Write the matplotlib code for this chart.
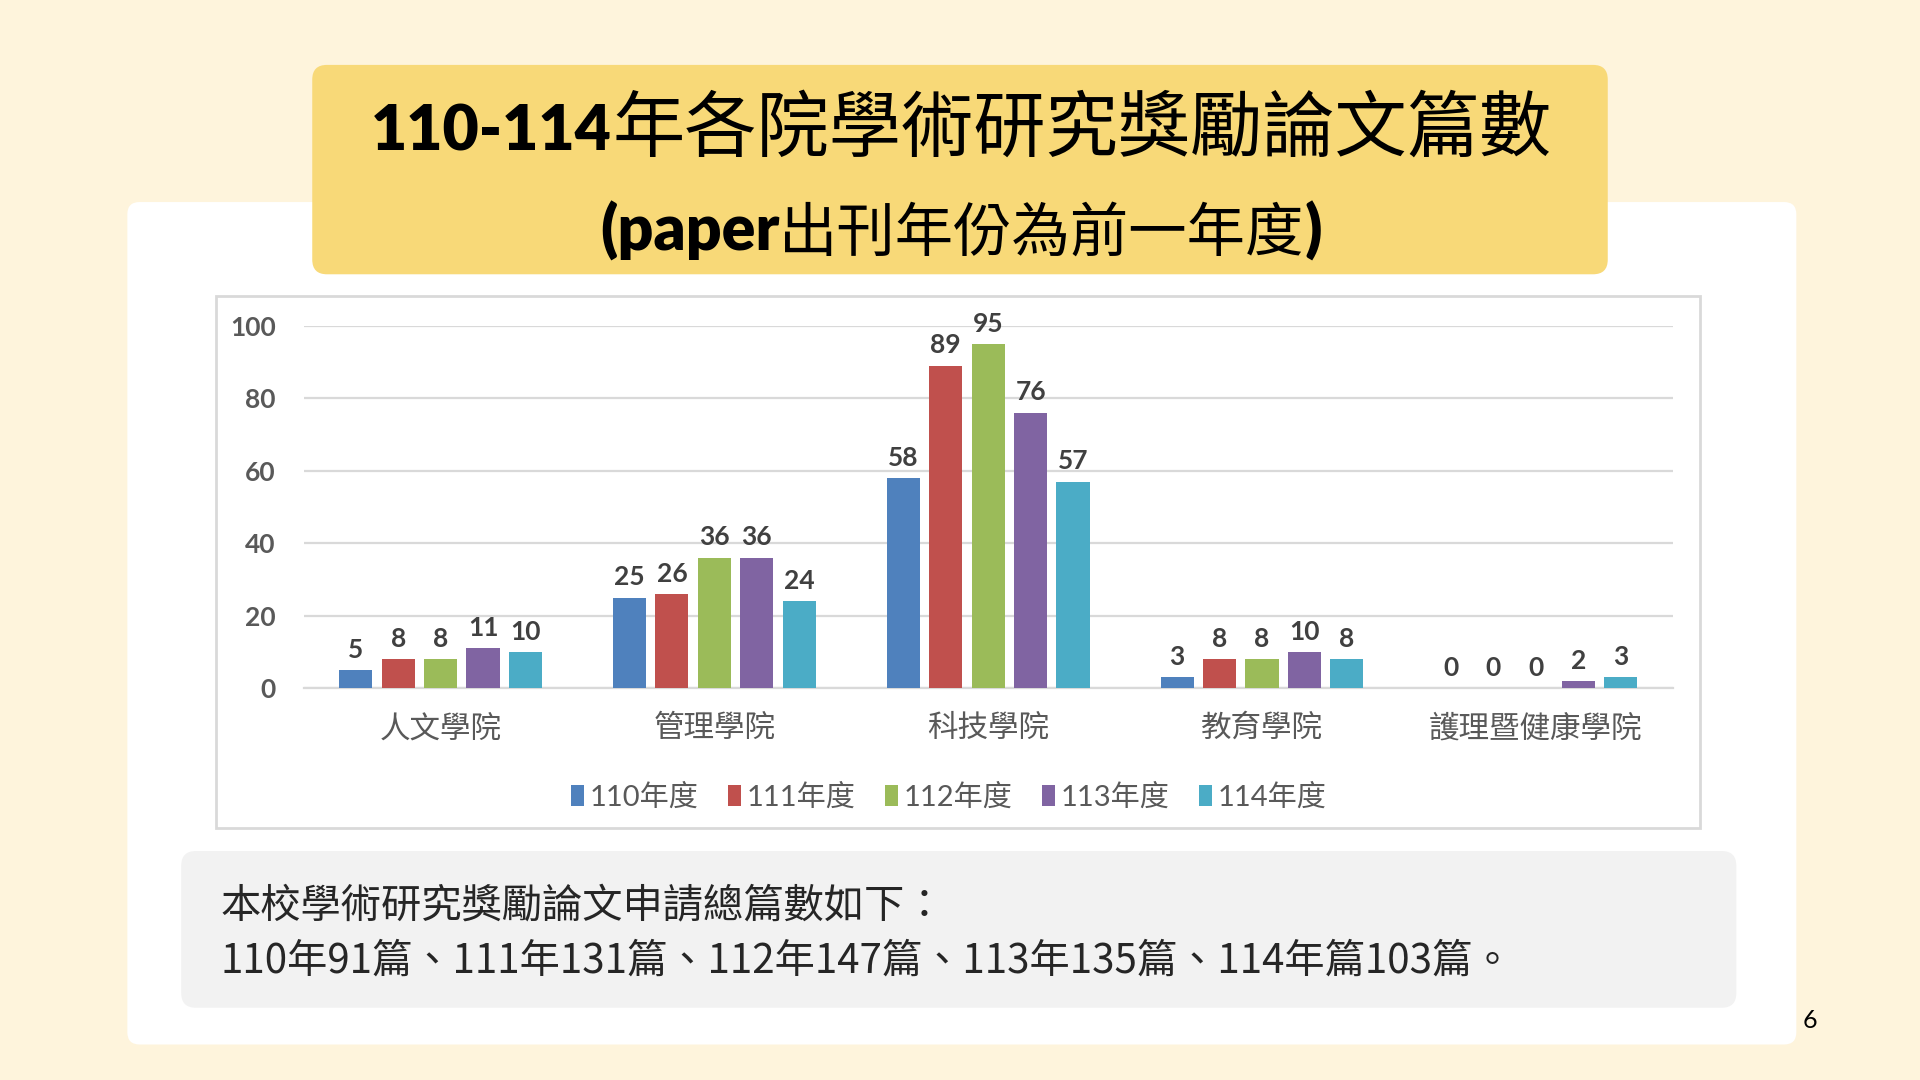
import numpy as np
import matplotlib.pyplot as plt
from matplotlib.patches import FancyBboxPatch, Rectangle

plt.rcParams["font.family"] = ["Lato", "Noto Sans CJK TC", "DejaVu Sans"]

colleges = ["人文學院", "管理學院", "科技學院", "教育學院", "護理暨健康學院"]
years = ["110年度", "111年度", "112年度", "113年度", "114年度"]
y110 = [5, 25, 58, 3, 0]
y111 = [8, 26, 89, 8, 0]
y112 = [8, 36, 95, 8, 0]
y113 = [11, 36, 76, 10, 2]
y114 = [10, 24, 57, 8, 3]
series = [y110, y111, y112, y113, y114]
colors = ["#4F81BD", "#C0504D", "#9BBB59", "#8064A2", "#4BACC6"]

note_line1 = "本校學術研究獎勵論文申請總篇數如下："
note_line2 = "110年91篇、111年131篇、112年147篇、113年135篇、114年篇103篇。"

W, H = 1568, 882  # layout units (scaled to the 1920x1080 canvas)
fig = plt.figure(figsize=(19.2, 10.8), dpi=100)
fig.patch.set_facecolor("#FEF4DC")

bg = fig.add_axes([0, 0, 1, 1])
bg.set_xlim(0, W)
bg.set_ylim(H, 0)
bg.axis("off")


def box(x0, y0, x1, y1, color, r=0, ec="none", lw=0, z=1):
    if r:
        p = FancyBboxPatch((x0 + r, y0 + r), x1 - x0 - 2 * r, y1 - y0 - 2 * r,
                           boxstyle=f"round,pad={r},rounding_size={r}",
                           fc=color, ec=ec, lw=lw, zorder=z)
    else:
        p = Rectangle((x0, y0), x1 - x0, y1 - y0, fc=color, ec=ec, lw=lw, zorder=z)
    bg.add_patch(p)


box(104, 165, 1467, 853, "white", r=10, z=1)
box(255, 53, 1313, 224, "#F8D978", r=12, z=2)
box(176, 242, 1388, 676, "white", ec="#D9D9D9", lw=2, z=2)
box(148, 695, 1418, 823, "#F2F2F2", r=12, z=2)

renderer = fig.canvas.get_renderer()
scale = W / 1920


def runs(x, y, parts, center=None):
    texts = []
    for s, kw in parts:
        t = bg.text(x, y, s, ha="left", va="baseline", zorder=5, **kw)
        texts.append(t)
        x += t.get_window_extent(renderer).width * scale
    if center is not None:
        total = x - texts[0].get_position()[0]
        shift = center - total / 2 - texts[0].get_position()[0]
        for t in texts:
            px, py = t.get_position()
            t.set_position((px + shift, py))


runs(308, 123, [("110-114", dict(fontsize=45, fontweight="heavy", family="Lato")),
                ("年各院學術研究獎勵論文篇數", dict(fontsize=52, family="Noto Sans CJK TC",
                                         fontweight="light"))], center=785)
runs(483, 205, [("(paper", dict(fontsize=45, fontweight="heavy", family="Lato")),
                ("出刊年份為前一年度", dict(fontsize=42, family="Noto Sans CJK TC",
                                     fontweight="light")),
                (")", dict(fontsize=45, fontweight="heavy", family="Lato"))], center=785)

bg.text(180, 749, note_line1, fontsize=29, color="#262626", va="baseline",
        family=["Noto Sans CJK TC"], zorder=5)
bg.text(180, 794, note_line2, fontsize=29, color="#262626", va="baseline",
        family=["Noto Sans CJK TC"], zorder=5)
bg.text(1478, 833, "6", fontsize=18, color="black", ha="center", va="center", zorder=5)

# chart
ax = fig.add_axes([248 / W, 1 - 562 / H, (1366 - 248) / W, (562 - 266) / H])
ax.set_facecolor("none")
x = np.arange(len(colleges))
step, width = 0.155, 0.121
for i, (vals, name, c) in enumerate(zip(series, years, colors)):
    bars = ax.bar(x + (i - 2) * step, vals, width, color=c, label=name, zorder=3)
    for b, v in zip(bars, vals):
        ax.annotate(str(v), (b.get_x() + b.get_width() / 2, v), xytext=(0, 6),
                    textcoords="offset points", ha="center", va="bottom",
                    fontsize=19, fontweight="bold", color="#404040",
                    annotation_clip=False)

ax.set_xlim(-0.5, len(colleges) - 0.5)
ax.set_ylim(0, 100)
ax.set_yticks(range(0, 101, 20))
ax.set_yticklabels([str(v) for v in range(0, 101, 20)], fontweight="bold")
ax.grid(axis="y", color="#D9D9D9", lw=1.6, zorder=0)
for s in ["top", "right", "left"]:
    ax.spines[s].set_visible(False)
ax.spines["bottom"].set_color("#D9D9D9")
ax.spines["bottom"].set_linewidth(1.6)
ax.tick_params(axis="y", length=0, pad=20, labelsize=19, labelcolor="#595959")
ax.tick_params(axis="x", length=0, pad=18, labelcolor="#595959")
ax.set_xticks(x)
ax.set_xticklabels(colleges, fontsize=22, family="Noto Sans CJK TC", fontweight="light")

leg = fig.legend(loc="center", bbox_to_anchor=(775 / W, 1 - 651 / H), ncol=5,
                 frameon=False, fontsize=21, handlelength=0.45, handleheight=0.75,
                 handletextpad=0.2, columnspacing=1.0)
for t in leg.get_texts():
    t.set_color("#595959")

fig.savefig("out.png", dpi=100, facecolor=fig.get_facecolor())
